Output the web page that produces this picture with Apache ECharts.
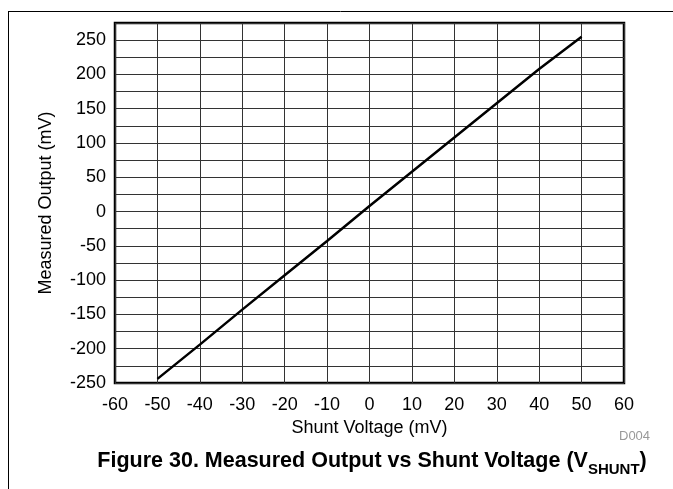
<!DOCTYPE html>
<html>
<head>
<meta charset="utf-8">
<script src="https://cdn.jsdelivr.net/npm/echarts@6/dist/echarts.min.js"></script>
<style>
  html, body { margin: 0; padding: 0; background: #fff; }
  #chart { width: 673px; height: 489px; }
</style>
</head>
<body>
<div id="chart"></div>
<script>
// shunt voltage (mV) and measured output (mV)
var shuntVoltage = [-50, -40, -30, -20, -10, 0, 10, 20, 30, 40, 50];
var measuredOutput = [-244, -194, -143, -93, -43, 8, 58, 108, 158, 208, 255];

var xTicks = { min: -60, max: 60, step: 10 };
var yTicks = { min: -250, max: 275, step: 25, labelStep: 50 };

var font = '"Liberation Sans", Arial, sans-serif';

var myChart = echarts.init(document.getElementById('chart'));

var pts = shuntVoltage.map(function (v, i) { return [v, measuredOutput[i]]; });

var option = {
  animation: false,
  grid: {
    left: 115, top: 23, width: 509, height: 360,
    show: true, borderColor: '#000', borderWidth: 2.5, backgroundColor: 'transparent'
  },
  title: {
    text: '{a|Figure 30. Measured Output vs Shunt Voltage (V}{b|SHUNT}{a|)}',
    left: 367, top: 442, textAlign: 'center',
    textStyle: {
      rich: {
        a: { fontFamily: font, fontSize: 21.5, fontWeight: 'bold', color: '#000', verticalAlign: 'bottom', lineHeight: 25 },
        b: { fontFamily: font, fontSize: 15, fontWeight: 'bold', color: '#000', verticalAlign: 'bottom', lineHeight: 25, padding: [0, 0, -5, 0] }
      }
    }
  },
  xAxis: {
    type: 'value',
    min: xTicks.min, max: xTicks.max, interval: xTicks.step,
    name: 'Shunt Voltage (mV)',
    nameLocation: 'middle', nameGap: 33,
    nameTextStyle: { fontFamily: font, fontSize: 18, color: '#000' },
    axisLine: { show: false },
    axisTick: { show: false },
    axisLabel: { fontFamily: font, fontSize: 18, color: '#000', margin: 13 },
    splitLine: { show: true, lineStyle: { color: '#333', width: 1 } }
  },
  yAxis: {
    type: 'value',
    min: yTicks.min, max: yTicks.max, interval: yTicks.step,
    name: 'Measured Output (mV)',
    nameLocation: 'middle', nameGap: 60,
    nameTextStyle: { fontFamily: font, fontSize: 18, color: '#000' },
    axisLine: { show: false },
    axisTick: { show: false },
    axisLabel: {
      fontFamily: font, fontSize: 18, color: '#000', margin: 9,
      formatter: function (v) {
        if (v > 250 || v % yTicks.labelStep !== 0) return '';
        return String(v);
      }
    },
    splitLine: { show: true, lineStyle: { color: '#333', width: 1 } }
  },
  graphic: [
    // page frame lines
    { type: 'line', shape: { x1: 8, y1: 11.5, x2: 673, y2: 11.5 }, style: { stroke: '#000', lineWidth: 1 } },
    { type: 'line', shape: { x1: 8.5, y1: 11, x2: 8.5, y2: 489 }, style: { stroke: '#000', lineWidth: 1 } },
    { type: 'text', left: 619, top: 430, style: { text: 'D004', fontFamily: font, fontSize: 13, fill: '#999' } }
  ],
  series: [{
    type: 'line',
    data: pts,
    showSymbol: false,
    lineStyle: { color: '#000', width: 2.5 }
  }]
};

myChart.setOption(option);
</script>
</body>
</html>
